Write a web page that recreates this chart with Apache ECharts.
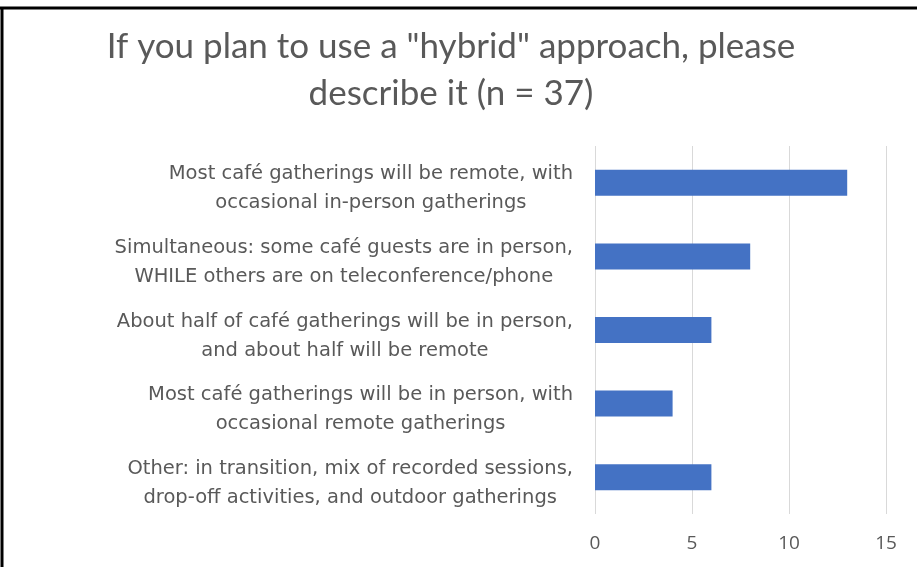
<!DOCTYPE html>
<html>
<head>
<meta charset="utf-8">
<title>Hybrid approach</title>
<script src="https://cdn.jsdelivr.net/npm/echarts@6/dist/echarts.min.js"></script>
<style>
    html, body, #main {
        width: 100%;
        height: 100%;
        margin: 0;
        background: #fff;
    }
</style>
</head>
<body>
<div id="main"></div>
<script>
// chart data
const categories = [
    'Most café gatherings will be remote, with\noccasional in-person gatherings',
    'Simultaneous: some café guests are in person,\nWHILE others are on teleconference/phone',
    'About half of café gatherings will be in person,\nand about half will be remote',
    'Most café gatherings will be in person, with\noccasional remote gatherings',
    'Other: in transition, mix of recorded sessions,\ndrop-off activities, and outdoor gatherings'
];
const counts = [13, 8, 6, 4, 6];
const xTicks = [0, 5, 10, 15];

const titleText = 'If you plan to use a "hybrid" approach, please\ndescribe it (n = 37)';
const grey = '#595959';

var myChart = echarts.init(document.getElementById('main'));

option = {
    backgroundColor: '#fff',
    animation: false,
    title: {
        text: titleText,
        left: 446,
        top: 18,
        textAlign: 'center',
        textStyle: {
            fontFamily: 'Lato',
            fontWeight: 'normal',
            fontSize: 35,
            lineHeight: 47,
            color: grey
        }
    },
    graphic: [
        { type: 'line', shape: { x1: 0, y1: 8, x2: 917, y2: 8 }, style: { stroke: '#000', lineWidth: 3 } },
        { type: 'line', shape: { x1: 2, y1: 7, x2: 2, y2: 567 }, style: { stroke: '#000', lineWidth: 3 } }
    ],
    grid: {
        left: 595,
        right: 31,
        top: 146,
        bottom: 53
    },
    xAxis: {
        type: 'value',
        min: xTicks[0],
        max: xTicks[xTicks.length - 1],
        interval: 5,
        axisLine: { show: false },
        axisTick: { show: false },
        splitLine: { lineStyle: { color: '#d9d9d9', width: 1 } },
        axisLabel: {
            color: grey,
            fontFamily: 'Open Sans',
            fontSize: 19,
            margin: 20
        }
    },
    yAxis: {
        type: 'category',
        data: categories,
        inverse: true,
        axisLine: { show: false },
        axisTick: { show: false },
        axisLabel: {
            margin: 22,
            padding: [12, 0, 0, 0],
            fontFamily: 'DejaVu Sans',
            fontSize: 19.5,
            lineHeight: 29,
            color: grey,
            formatter: function (v) {
                return v.split('\n').map(s => '{c|' + s + '}').join('\n');
            },
            rich: {
                c: {
                    align: 'center',
                    fontFamily: 'DejaVu Sans',
                    fontSize: 19.5,
                    lineHeight: 29,
                    color: grey
                }
            }
        }
    },
    series: [
        {
            name: 'Responses',
            type: 'bar',
            data: counts,
            barWidth: 26,
            itemStyle: { color: '#4472C4' }
        }
    ]
};
myChart.setOption(option);
</script>
</body>
</html>
